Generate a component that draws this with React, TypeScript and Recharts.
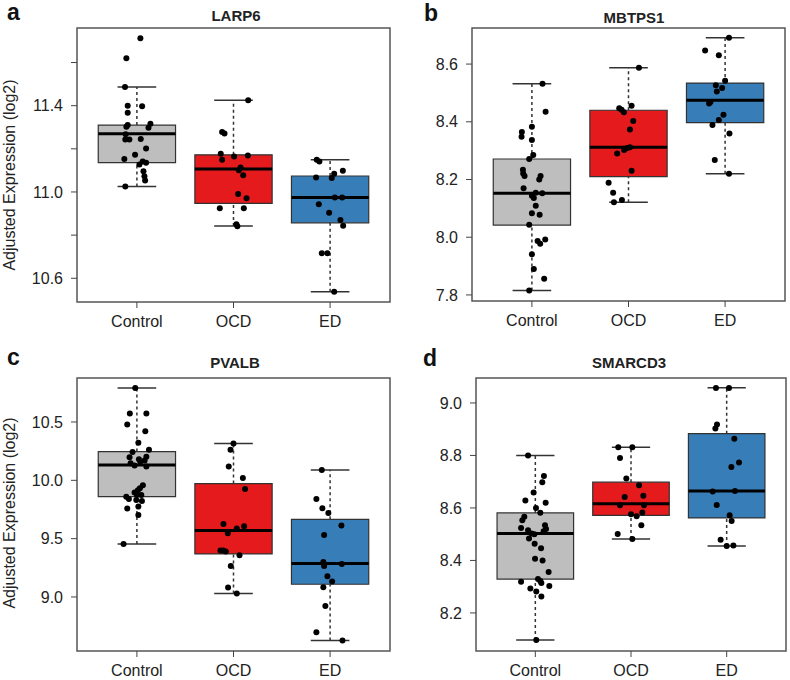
import React from 'react';
import { ComposedChart, XAxis, YAxis, Scatter, ReferenceArea, ReferenceLine } from 'recharts';

const groups = ['Control', 'OCD', 'ED'];
const groupColors = ['#BEBEBE', '#E41A1C', '#377EB8'];

// box stats per group: [lower whisker, Q1, median, Q3, upper whisker]
const larp6Stats = [
  [11.025, 11.136, 11.27, 11.31, 11.487],
  [10.842, 10.947, 11.107, 11.172, 11.425],
  [10.538, 10.857, 10.974, 11.074, 11.149],
];
const larp6Ctrl = [11.712, 11.62, 11.487, 11.4, 11.397, 11.367, 11.302, 11.31, 11.316, 11.298, 11.267, 11.243, 11.243, 11.245, 11.201, 11.172, 11.153, 11.141, 11.136, 11.127, 11.096, 11.073, 11.053, 11.025];
const larp6CtrlJit = [0.036, -0.109, -0.123, -0.095, 0.054, -0.095, -0.109, -0.095, 0.14, 0.12, -0.116, -0.078, -0.12, 0.04, 0.095, -0.019, -0.13, 0.06, 0.095, 0.026, 0.068, 0.078, 0.085, -0.12];
const larp6Ocd = [11.425, 11.278, 11.271, 11.177, 11.149, 11.164, 11.169, 11.113, 11.101, 11.078, 10.991, 10.971, 10.924, 10.924, 10.85, 10.841];
const larp6OcdJit = [0.152, -0.118, -0.093, -0.132, -0.118, 0.006, 0.149, 0.073, 0.055, 0.1, 0.048, 0.135, -0.142, 0.107, 0.03, 0.04];
const larp6Ed = [11.149, 11.141, 11.067, 11.065, 11.085, 11.098, 10.974, 10.974, 10.943, 10.904, 10.87, 10.843, 10.716, 10.716, 10.538];
const larp6EdJit = [-0.138, -0.111, -0.145, 0.017, 0.042, 0.132, 0.049, 0.125, -0.117, -0.01, 0.107, 0.135, -0.086, -0.028, 0.042];
const larp6Ticks = [10.6, 10.8, 11.0, 11.2, 11.4, 11.6];
const larp6Labelled = [10.6, 11.0, 11.4];

const mbtps1Stats = [
  [7.815, 8.042, 8.152, 8.271, 8.532],
  [8.121, 8.21, 8.312, 8.44, 8.587],
  [8.22, 8.397, 8.475, 8.534, 8.691],
];
const mbtps1Ctrl = [8.532, 8.435, 8.383, 8.365, 8.348, 8.337, 8.285, 8.271, 8.234, 8.221, 8.212, 8.212, 8.2, 8.17, 8.154, 8.144, 8.136, 8.152, 8.109, 8.083, 8.078, 8.043, 7.987, 7.977, 7.992, 7.941, 7.89, 7.856, 7.815];
const mbtps1CtrlJit = [0.11, 0.142, 0.0, -0.104, -0.107, 0.0, 0.014, -0.028, -0.093, -0.09, -0.076, 0.09, 0.076, -0.086, 0.04, 0.0, 0.02, 0.107, 0.04, 0.0, 0.08, -0.028, 0.059, 0.086, 0.138, 0.0, 0.02, 0.127, -0.028];
const mbtps1Ocd = [8.587, 8.447, 8.442, 8.433, 8.456, 8.403, 8.373, 8.312, 8.309, 8.302, 8.29, 8.23, 8.189, 8.154, 8.129, 8.121];
const mbtps1OcdJit = [0.108, -0.096, -0.072, -0.048, 0.032, 0.049, 0.015, 0.015, -0.013, -0.045, -0.117, 0.032, -0.206, -0.159, -0.068, -0.151];
const mbtps1Ed = [8.691, 8.647, 8.631, 8.542, 8.527, 8.517, 8.505, 8.469, 8.463, 8.424, 8.406, 8.389, 8.359, 8.268, 8.22];
const mbtps1EdJit = [0.04, -0.207, -0.065, 0.0, -0.096, -0.031, -0.086, -0.152, -0.166, -0.017, -0.065, -0.131, 0.045, -0.107, 0.04];
const mbtps1Ticks = [7.8, 8.0, 8.2, 8.4, 8.6];

const pvalbStats = [
  [9.454, 9.86, 10.131, 10.246, 10.791],
  [9.029, 9.369, 9.569, 9.972, 10.315],
  [8.626, 9.109, 9.286, 9.666, 10.089],
];
const pvalbCtrl = [10.791, 10.572, 10.572, 10.478, 10.42, 10.323, 10.263, 10.243, 10.197, 10.18, 10.203, 10.169, 10.146, 10.16, 10.126, 10.118, 9.957, 9.932, 9.915, 9.895, 9.874, 9.874, 9.86, 9.84, 9.831, 9.823, 9.758, 9.775, 9.703, 9.454];
const pvalbCtrlJit = [-0.017, -0.073, 0.098, -0.1, 0.087, 0.015, 0.125, -0.045, -0.076, 0.021, 0.098, 0.08, -0.065, 0.035, -0.024, 0.098, 0.062, 0.031, 0.01, -0.024, 0.0, 0.046, -0.11, -0.083, -0.006, 0.052, -0.1, 0.015, 0.015, -0.138];
const pvalbOcd = [10.315, 10.263, 10.118, 10.02, 9.926, 9.626, 9.586, 9.606, 9.546, 9.398, 9.398, 9.389, 9.357, 9.266, 9.082, 9.029];
const pvalbOcdJit = [0.0, -0.031, -0.049, 0.097, 0.12, -0.104, 0.034, 0.11, -0.059, -0.135, -0.108, -0.08, 0.062, -0.028, -0.056, 0.034];
const pvalbEd = [10.089, 9.84, 9.76, 9.72, 9.612, 9.531, 9.3, 9.266, 9.283, 9.178, 9.132, 9.083, 8.923, 8.698, 8.626];
const pvalbEdJit = [-0.086, -0.142, -0.08, -0.018, 0.117, -0.062, -0.07, -0.062, 0.121, -0.028, 0.021, -0.07, -0.049, -0.142, 0.128];
const pvalbTicks = [9.0, 9.5, 10.0, 10.5];

const smarcd3Stats = [
  [8.097, 8.329, 8.503, 8.581, 8.8],
  [8.482, 8.572, 8.616, 8.698, 8.831],
  [8.455, 8.562, 8.665, 8.883, 9.058],
];
const smarcd3Ctrl = [8.8, 8.722, 8.698, 8.659, 8.628, 8.62, 8.6, 8.582, 8.566, 8.553, 8.534, 8.524, 8.52, 8.511, 8.515, 8.503, 8.5, 8.484, 8.464, 8.446, 8.406, 8.4, 8.356, 8.319, 8.329, 8.322, 8.314, 8.303, 8.293, 8.282, 8.263, 8.097];
const smarcd3CtrlJit = [-0.076, 0.09, 0.073, -0.018, -0.104, 0.108, 0.007, 0.052, -0.115, -0.136, 0.101, -0.149, 0.112, 0.087, -0.076, -0.039, -0.01, -0.066, -0.007, 0.06, -0.003, 0.076, 0.139, -0.149, 0.028, 0.052, 0.063, 0.146, -0.052, 0.01, 0.063, 0.01];
const smarcd3Ocd = [8.831, 8.831, 8.79, 8.712, 8.686, 8.642, 8.646, 8.61, 8.61, 8.576, 8.568, 8.583, 8.534, 8.501, 8.482];
const smarcd3OcdJit = [-0.133, 0.014, -0.115, -0.049, 0.084, -0.066, 0.129, -0.115, 0.136, 0.0, 0.059, 0.118, 0.108, -0.139, 0.014];
const smarcd3Ed = [9.057, 9.057, 8.903, 8.918, 8.864, 8.773, 8.756, 8.663, 8.665, 8.611, 8.572, 8.55, 8.479, 8.455, 8.457];
const smarcd3EdJit = [-0.112, 0.024, -0.118, -0.101, 0.08, 0.129, 0.049, -0.146, 0.087, -0.104, 0.031, 0.052, -0.063, 0.0, 0.07];
const smarcd3Ticks = [8.2, 8.4, 8.6, 8.8, 9.0];

const FONT = '"Liberation Sans", Arial, Helvetica, sans-serif';
const X_DOMAIN = [0.38, 3.62];

const panels = [
  {
    letter: 'a', title: 'LARP6', left: 0, top: 0, plotTop: 28, xHeight: 30, bottom: 8, yWidth: 77, right: 5,
    domain: [10.49, 11.76], ticks: larp6Ticks, labelled: larp6Labelled, stats: larp6Stats,
    points: [[larp6Ctrl, larp6CtrlJit], [larp6Ocd, larp6OcdJit], [larp6Ed, larp6EdJit]],
    yLabel: true, letterPos: [7, 20], titlePos: [236, 21], yLabelY: 175,
  },
  {
    letter: 'b', title: 'MBTPS1', left: 395, top: 0, plotTop: 28, xHeight: 30, bottom: 9, yWidth: 77, right: 5,
    domain: [7.779, 8.725], ticks: mbtps1Ticks, labelled: mbtps1Ticks, stats: mbtps1Stats,
    points: [[mbtps1Ctrl, mbtps1CtrlJit], [mbtps1Ocd, mbtps1OcdJit], [mbtps1Ed, mbtps1EdJit]],
    yLabel: false, letterPos: [29, 21], titlePos: [239, 23], yLabelY: 175,
  },
  {
    letter: 'c', title: 'PVALB', left: 0, top: 340, plotTop: 38, xHeight: 29, bottom: 0, yWidth: 77, right: 5,
    domain: [8.537, 10.877], ticks: pvalbTicks, labelled: pvalbTicks, stats: pvalbStats,
    points: [[pvalbCtrl, pvalbCtrlJit], [pvalbOcd, pvalbOcdJit], [pvalbEd, pvalbEdJit]],
    yLabel: true, letterPos: [7, 25], titlePos: [235, 28], yLabelY: 173,
  },
  {
    letter: 'd', title: 'SMARCD3', left: 395, top: 340, plotTop: 38, xHeight: 29, bottom: 0, yWidth: 81, right: 4,
    domain: [8.055, 9.095], ticks: smarcd3Ticks, labelled: smarcd3Ticks, stats: smarcd3Stats,
    points: [[smarcd3Ctrl, smarcd3CtrlJit], [smarcd3Ocd, smarcd3OcdJit], [smarcd3Ed, smarcd3EdJit]],
    yLabel: false, letterPos: [28, 26], titlePos: [234, 28], yLabelY: 173,
  },
];

const Dot = (props: any) => <circle cx={props.cx} cy={props.cy} r={3} fill="#000" />;

const Panel = ({ p }: { p: any }) => {
  const pts = p.points.flatMap(([vals, jit]: number[][], i: number) =>
    vals.map((v: number, j: number) => ({ x: i + 1 + jit[j], y: v }))
  );

  return (
    <div style={{ position: 'absolute', left: p.left, top: p.top, width: 395, height: 340 }}>
      <ComposedChart
        width={395}
        height={340}
        margin={{ top: p.plotTop, right: p.right, bottom: p.bottom, left: 0 }}
      >
        <XAxis
          type="number"
          dataKey="x"
          domain={X_DOMAIN}
          ticks={[1, 2, 3]}
          allowDataOverflow
          height={p.xHeight}
          axisLine={false}
          tickSize={6}
          tickMargin={8}
          tickLine={{ stroke: '#444' }}
          tick={{ fill: '#222', fontSize: 16, fontFamily: FONT }}
          tickFormatter={(v: number) => groups[Math.round(v) - 1]}
        />
        <YAxis
          type="number"
          dataKey="y"
          domain={p.domain}
          ticks={p.ticks}
          allowDataOverflow
          width={p.yWidth}
          axisLine={false}
          tickSize={6}
          tickMargin={8}
          tickLine={{ stroke: '#444' }}
          tick={{ fill: '#222', fontSize: 16, fontFamily: FONT }}
          tickFormatter={(v: number) => (p.labelled.includes(v) ? v.toFixed(1) : '')}
        />
        {p.stats.map((s: number[], i: number) => {
          const c = i + 1;
          return (
            <React.Fragment key={groups[i]}>
              <ReferenceLine segment={[{ x: c, y: s[3] }, { x: c, y: s[4] }]} stroke="#333" strokeWidth={1.5} strokeDasharray="3 3" />
              <ReferenceLine segment={[{ x: c, y: s[0] }, { x: c, y: s[1] }]} stroke="#333" strokeWidth={1.5} strokeDasharray="3 3" />
              <ReferenceLine segment={[{ x: c - 0.2, y: s[4] }, { x: c + 0.2, y: s[4] }]} stroke="#333" strokeWidth={1.5} />
              <ReferenceLine segment={[{ x: c - 0.2, y: s[0] }, { x: c + 0.2, y: s[0] }]} stroke="#333" strokeWidth={1.5} />
              <ReferenceArea x1={c - 0.4} x2={c + 0.4} y1={s[1]} y2={s[3]} fill={groupColors[i]} fillOpacity={1} stroke="#333" strokeWidth={1.2} />
              <ReferenceLine segment={[{ x: c - 0.4, y: s[2] }, { x: c + 0.4, y: s[2] }]} stroke="#000" strokeWidth={3} />
            </React.Fragment>
          );
        })}
        <Scatter data={pts} fill="#000" shape={Dot} isAnimationActive={false} />
        <ReferenceArea x1={X_DOMAIN[0]} x2={X_DOMAIN[1]} y1={p.domain[0]} y2={p.domain[1]} fill="none" stroke="#555" strokeWidth={1.5} />
      </ComposedChart>
      <svg width={395} height={340} style={{ position: 'absolute', left: 0, top: 0, pointerEvents: 'none' }}>
        <text x={p.letterPos[0]} y={p.letterPos[1]} fontFamily={FONT} fontWeight="bold" fontSize={23} fill="#111">
          {p.letter}
        </text>
        <text x={p.titlePos[0]} y={p.titlePos[1]} textAnchor="middle" fontFamily={FONT} fontWeight="bold" fontSize={15} fill="#222">
          {p.title}
        </text>
        {p.yLabel && (
          <text
            transform={`translate(15, ${p.yLabelY}) rotate(-90)`}
            textAnchor="middle"
            fontFamily={FONT}
            fontSize={16}
            fill="#222"
          >
            Adjusted Expression (log2)
          </text>
        )}
      </svg>
    </div>
  );
};

export default function App() {
  return (
    <div style={{ position: 'absolute', left: 0, top: 0, width: 790, height: 680, background: '#fff' }}>
      {panels.map((p) => (
        <Panel key={p.letter} p={p} />
      ))}
    </div>
  );
}
